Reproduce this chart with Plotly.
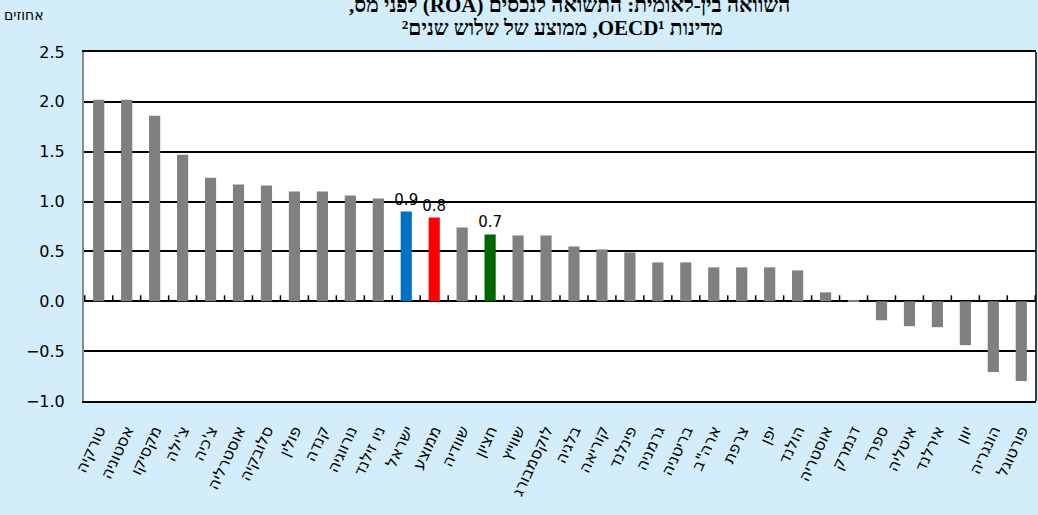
import plotly.graph_objects as go

RLE = "\u202b"
PDF = "\u202c"

categories = ["טורקיה", "אסטוניה", "מקסיקו", "צ'ילה", "צ'כיה", "אוסטרליה", "סלובקיה",
              "פולין", "קנדה", "נורווגיה", "ניו זילנד", "ישראל", "ממוצע", "שוודיה",
              "חציון", "שווייץ", "לוקסמבורג", "בלגיה", "קוריאה", "פינלנד", "גרמניה",
              "בריטניה", "ארה\"ב", "צרפת", "יפן", "הולנד", "אוסטריה", "דנמרק", "ספרד",
              "איטליה", "אירלנד", "יוון", "הונגריה", "פורטוגל"]

values = [2.02, 2.02, 1.86, 1.47, 1.24, 1.17, 1.16, 1.10, 1.10, 1.06, 1.03, 0.90, 0.84,
          0.74, 0.67, 0.66, 0.66, 0.55, 0.52, 0.49, 0.39, 0.39, 0.34, 0.34, 0.34, 0.31,
          0.09, 0.01, -0.19, -0.25, -0.26, -0.44, -0.71, -0.80]

highlight_colors = {"ישראל": "#0070C0", "ממוצע": "#FF0000", "חציון": "#006600"}
base_color = "#808080"

y_ticks = [-1.0, -0.5, 0.0, 0.5, 1.0, 1.5, 2.0, 2.5]

title_line1 = "השוואה בין-לאומית: התשואה לנכסים (ROA) לפני מס,"
title_line2 = "מדינות OECD\u00b9, ממוצע של שלוש שנים\u00b2"
unit_label = "אחוזים"

colors = [highlight_colors.get(c, base_color) for c in categories]
texts = [f"{v:.1f}" if c in highlight_colors else "" for c, v in zip(categories, values)]


def rtl(s):
    # render as a right-to-left paragraph inside the (left-to-right) svg text
    return RLE + s + PDF


fig = go.Figure()
fig.add_trace(go.Bar(
    x=categories, y=values, marker=dict(color=colors, line=dict(width=0)),
    text=texts, textposition="outside", constraintext="none", cliponaxis=False,
    textfont=dict(family="DejaVu Sans", size=15, color="black"),
    hoverinfo="x+y", showlegend=False,
))

# small upward ticks on the zero line at every category boundary
boundary_ticks = [
    dict(type="line", xref="x", yref="y", x0=i - 0.5, x1=i - 0.5,
         ysizemode="pixel", yanchor=0, y0=0, y1=6,
         line=dict(color="black", width=1.5))
    for i in range(len(categories) + 1)
]

title_font = dict(family="Liberation Serif", size=21, color="black", weight="bold")

fig.update_layout(
    width=1038, height=515,
    margin=dict(l=84, r=2, t=52, b=114),
    paper_bgcolor="#D3EEFA", plot_bgcolor="white",
    bargap=0.6,
    xaxis=dict(
        type="category", showgrid=False, zeroline=False,
        showline=True, mirror=True, linecolor="black", linewidth=1.5,
        ticks="", tickangle=-65, ticklabelstandoff=12,
        tickfont=dict(family="DejaVu Sans", size=16, color="black"),
        automargin=False,
    ),
    yaxis=dict(
        range=[-1.0, 2.5], tickvals=y_ticks, tickformat=".1f",
        showgrid=True, gridcolor="black", gridwidth=1.5,
        zeroline=True, zerolinecolor="black", zerolinewidth=2,
        showline=True, linecolor="#8C8C8C", linewidth=2,
        ticks="", ticklabelstandoff=14,
        tickfont=dict(family="DejaVu Sans", size=16, color="black"),
        automargin=False,
    ),
    shapes=boundary_ticks + [
        dict(type="line", xref="paper", yref="paper", x0=1, x1=1, y0=0, y1=1,
             line=dict(color="black", width=1.5))],
    annotations=[
        dict(text=rtl(title_line1), xref="paper", yref="paper", x=0.51, y=1.136,
             xanchor="center", yanchor="middle", showarrow=False, font=title_font),
        dict(text=rtl(title_line2), xref="paper", yref="paper", x=0.503, y=1.068,
             xanchor="center", yanchor="middle", showarrow=False, font=title_font),
        dict(text=unit_label, xref="paper", yref="paper", x=(24 - 84) / 952, y=1.106,
             xanchor="center", yanchor="middle", showarrow=False,
             font=dict(family="DejaVu Sans", size=14, color="black")),
    ],
)

fig.write_html("out.html", config={"displayModeBar": False},
               post_script="document.body.style.margin='0';")
